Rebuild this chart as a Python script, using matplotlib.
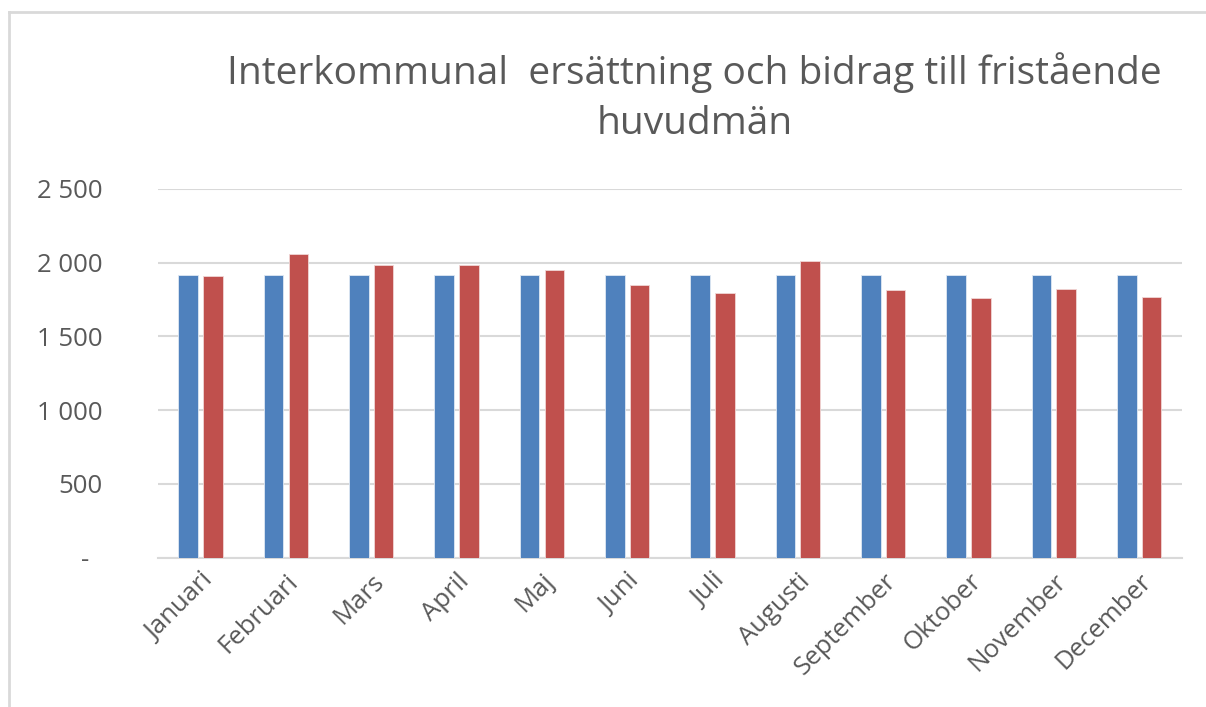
import numpy as np
import matplotlib
matplotlib.use('Agg')
import matplotlib.pyplot as plt
from matplotlib.ticker import FuncFormatter
from matplotlib.lines import Line2D

months = ['Januari', 'Februari', 'Mars', 'April', 'Maj', 'Juni', 'Juli',
          'Augusti', 'September', 'Oktober', 'November', 'December']
budget = [1920, 1920, 1920, 1920, 1920, 1920, 1920, 1920, 1920, 1920, 1920, 1920]
utfall = [1908, 2057, 1983, 1983, 1949, 1847, 1793, 2014, 1813, 1759, 1824, 1770]
title = 'Interkommunal  ersättning och bidrag till fristående\nhuvudmän'

plt.rcParams['font.family'] = ['Open Sans', 'DejaVu Sans']
grey = '#595959'

fig = plt.figure(figsize=(12.06, 7.07), dpi=100)
ax = fig.add_axes([0.131, 0.2112, 0.849, 0.5215])

x = np.arange(len(months))
w = 0.23
gap = 0.06
ax.bar(x - (w + gap) / 2, budget, width=w, color='#4F81BD', edgecolor='#dfe8f3', linewidth=0.6, zorder=3)
ax.bar(x + (w + gap) / 2, utfall, width=w, color='#C0504D', edgecolor='#f0d6d5', linewidth=0.6, zorder=3)

ax.set_xlim(-0.5, len(months) - 0.5)
ax.set_ylim(0, 2500)
ax.set_yticks(np.arange(0, 2501, 500))


def fmt(v, pos):
    if v == 0:
        return '-  '
    return '{:,.0f}'.format(v).replace(',', ' ')


ax.yaxis.set_major_formatter(FuncFormatter(fmt))
ax.grid(axis='y', color='#d9d9d9', linewidth=1.5, zorder=0)
for s in ['top', 'right', 'left']:
    ax.spines[s].set_visible(False)
ax.spines['bottom'].set_color('#d9d9d9')
ax.spines['bottom'].set_linewidth(1.5)
ax.tick_params(axis='y', length=0, pad=40, labelsize=18.5, labelcolor=grey)
ax.tick_params(axis='x', length=0, pad=8, labelsize=18.5, labelcolor=grey)
ax.set_xticks(x)
ax.set_xticklabels(months, rotation=45, ha='right', va='top', rotation_mode='anchor')

fig.text(0.576, 0.862, title, ha='center', va='center', fontsize=28, color=grey, linespacing=1.4)

# chart border (top and left only visible)
fig.add_artist(Line2D([0.0075, 1.0], [0.983, 0.983], color='#d9d9d9', linewidth=2, transform=fig.transFigure))
fig.add_artist(Line2D([0.0075, 0.0075], [0.0, 0.983], color='#d9d9d9', linewidth=2, transform=fig.transFigure))

fig.savefig('out.png', dpi=100)
